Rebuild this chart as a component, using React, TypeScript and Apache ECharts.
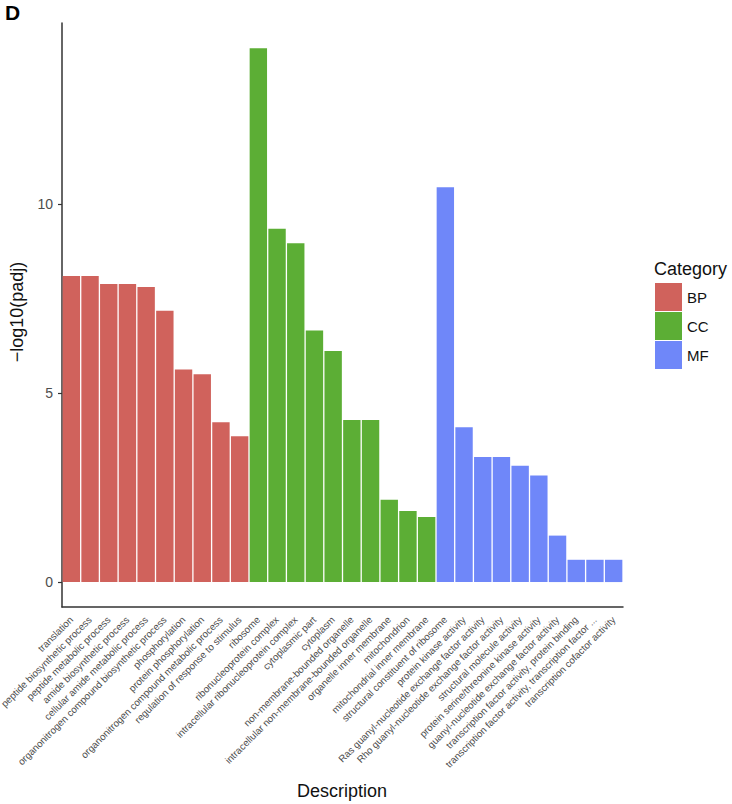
import React, { useEffect, useRef } from "react";
import * as echarts from "echarts";

const bpTerms = [
  "translation",
  "peptide biosynthetic process",
  "peptide metabolic process",
  "amide biosynthetic process",
  "cellular amide metabolic process",
  "organonitrogen compound biosynthetic process",
  "phosphorylation",
  "protein phosphorylation",
  "organonitrogen compound metabolic process",
  "regulation of response to stimulus",
];
const ccTerms = [
  "ribosome",
  "ribonucleoprotein complex",
  "intracellular ribonucleoprotein complex",
  "cytoplasmic part",
  "cytoplasm",
  "non-membrane-bounded organelle",
  "intracellular non-membrane-bounded organelle",
  "organelle inner membrane",
  "mitochondrion",
  "mitochondrial inner membrane",
];
const mfTerms = [
  "structural constituent of ribosome",
  "protein kinase activity",
  "Ras guanyl-nucleotide exchange factor activity",
  "Rho guanyl-nucleotide exchange factor activity",
  "structural molecule activity",
  "protein serine/threonine kinase activity",
  "guanyl-nucleotide exchange factor activity",
  "transcription factor activity, protein binding",
  "transcription factor activity, transcription factor ...",
  "transcription cofactor activity",
];

const bpValues = [8.1, 8.1, 7.89, 7.89, 7.81, 7.18, 5.63, 5.5, 4.23, 3.86];
const ccValues = [14.13, 9.35, 8.97, 6.66, 6.12, 4.29, 4.29, 2.18, 1.88, 1.72];
const mfValues = [10.45, 4.1, 3.31, 3.31, 3.08, 2.82, 1.23, 0.59, 0.59, 0.59];

const groupNames = ["BP", "CC", "MF"];
const groupColors = ["#D0625C", "#5CAE35", "#6F87F9"];
const yTickValues = [0, 5, 10];

const FONT = "'Liberation Sans', Arial, Helvetica, sans-serif";

export default function App() {
  const ref = useRef<HTMLDivElement>(null);

  useEffect(() => {
    document.body.style.margin = "0";
    if (!ref.current) return;
    const chart = echarts.init(ref.current, undefined, { renderer: "svg" });
    const categories = [...bpTerms, ...ccTerms, ...mfTerms];
    const groups = [bpValues, ccValues, mfValues];
    let offset = 0;
    const series = groups.map((vals, gi) => {
      const data: (number | null)[] = categories.map(() => null);
      vals.forEach((v, i) => {
        data[offset + i] = v;
      });
      offset += vals.length;
      return {
        name: groupNames[gi],
        type: "bar",
        stack: "all",
        data,
        barCategoryGap: "7%",
        itemStyle: { color: groupColors[gi] },
      };
    });

    chart.setOption({
      animation: false,
      textStyle: { fontFamily: FONT },
      grid: { left: 62, right: 109, top: 23, bottom: 197, outerBoundsMode: "none", containLabel: false },
      legend: {
        orient: "vertical",
        left: 655,
        top: 283,
        padding: 0,
        itemWidth: 27,
        itemHeight: 28,
        itemGap: 1,
        icon: "rect",
        textStyle: { fontSize: 15, color: "#111", fontFamily: FONT },
        data: groupNames,
      },
      xAxis: {
        type: "category",
        data: categories,
        axisLine: { onZero: false, lineStyle: { color: "#333", width: 1.5 } },
        axisTick: { alignWithLabel: true, length: 4, lineStyle: { color: "#333", width: 1.2 } },
        axisLabel: {
          interval: 0,
          rotate: 45,
          fontSize: 9.8,
          color: "#4d4d4d",
          margin: 11,
          fontFamily: FONT,
        },
      },
      yAxis: {
        type: "value",
        min: -0.66,
        max: 14.8,
        splitLine: { show: false },
        axisLine: { show: true, lineStyle: { color: "#333", width: 1.5 } },
        axisTick: { show: true, length: 4, customValues: yTickValues, lineStyle: { color: "#333", width: 1.2 } },
        axisLabel: {
          customValues: yTickValues,
          fontSize: 14,
          color: "#4d4d4d",
          margin: 9,
          fontFamily: FONT,
        },
      },
      graphic: [
        {
          type: "text",
          left: 5,
          top: 2,
          style: { text: "D", font: `bold 21px ${FONT}`, fill: "#000" },
        },
        {
          type: "text",
          x: 17,
          y: 312,
          rotation: Math.PI / 2,
          style: {
            text: "\u2212log10(padj)",
            font: `18px ${FONT}`,
            fill: "#111",
            align: "center",
            verticalAlign: "middle",
          },
        },
        {
          type: "text",
          x: 342,
          y: 791,
          style: {
            text: "Description",
            font: `18px ${FONT}`,
            fill: "#111",
            align: "center",
            verticalAlign: "middle",
          },
        },
        {
          type: "text",
          x: 654,
          y: 269,
          style: {
            text: "Category",
            font: `18px ${FONT}`,
            fill: "#111",
            align: "left",
            verticalAlign: "middle",
          },
        },
      ],
      series,
    });
    return () => chart.dispose();
  }, []);

  return <div ref={ref} style={{ width: 732, height: 804 }} />;
}
